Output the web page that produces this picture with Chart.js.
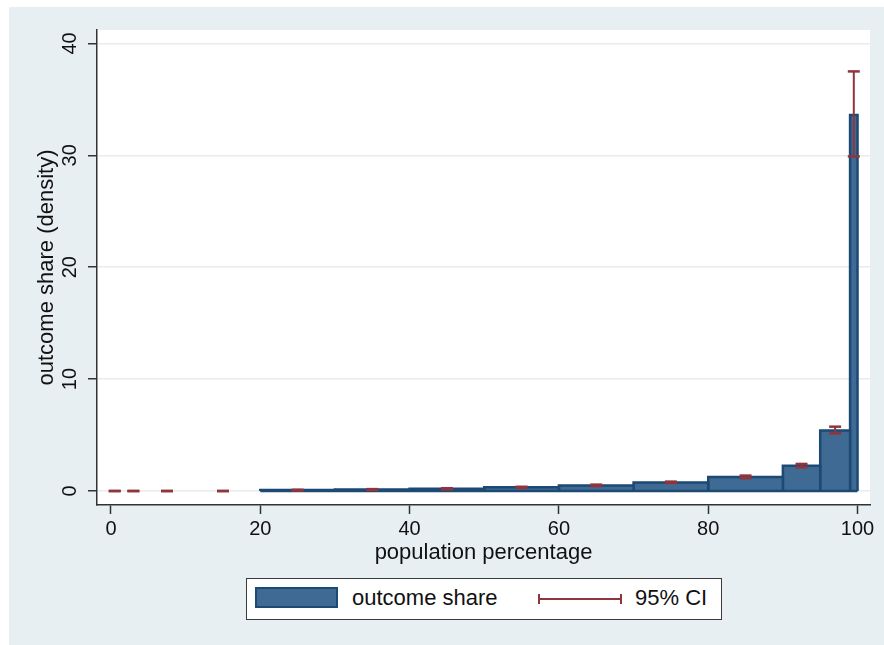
<!DOCTYPE html>
<html>
<head>
<meta charset="utf-8">
<title>outcome share by population percentage</title>
<script src="https://cdn.jsdelivr.net/npm/chart.js@4/dist/chart.umd.min.js"></script>
<style>
  html, body { margin: 0; padding: 0; background: #ffffff; }
  body { width: 884px; height: 645px; position: relative; overflow: hidden;
         font-family: "Liberation Sans", Arial, Helvetica, sans-serif; color: #111; }
  #panel { position: absolute; left: 9px; top: 7px; width: 875px; height: 638px; background: #e8eff2; }
  #chart { position: absolute; left: 0; top: 0; }
  #key { position: absolute; left: 246px; top: 578px; width: 476px; height: 42px;
         border: 1.5px solid #3a3a3a; background: #ffffff; box-sizing: border-box; }
  #key .swatch { position: absolute; left: 8px; top: 8px; width: 83px; height: 21px;
                 background: #3f6a93; border: 2px solid #1d4a74; box-sizing: border-box; }
  #key .label { position: absolute; top: 8px; font-size: 22px; line-height: 22px; white-space: nowrap; }
  #key .ci { position: absolute; left: 291px; top: 15px; width: 84px; height: 10px; }
  #key .ci .h { position: absolute; left: 0; right: 0; top: 4px; height: 2px; background: #90353b; }
  #key .ci .l { position: absolute; left: 0; top: 0; width: 2px; height: 10px; background: #90353b; }
  #key .ci .r { position: absolute; right: 0; top: 0; width: 2px; height: 10px; background: #90353b; }
</style>
</head>
<body>
<div id="panel"></div>
<canvas id="chart" width="884" height="645"></canvas>
<div id="key">
  <div class="swatch"></div>
  <div class="label" style="left:105px">outcome share</div>
  <div class="ci"><div class="h"></div><div class="l"></div><div class="r"></div></div>
  <div class="label" style="left:388px">95% CI</div>
</div>
<script>
// Histogram bins (population percentage) and estimated outcome share density
const binLo   = [0, 1, 5, 10, 20, 30, 40, 50, 60, 70, 80, 90, 95, 99];
const binHi   = [1, 5, 10, 20, 30, 40, 50, 60, 70, 80, 90, 95, 99, 100];
const density = [0, 0, 0, 0, 0.08, 0.13, 0.2, 0.33, 0.5, 0.77, 1.25, 2.25, 5.4, 33.6];
// 95% confidence interval bounds for each bin
const ciLow   = [0, 0, 0, 0, 0.04, 0.09, 0.15, 0.28, 0.44, 0.72, 1.15, 2.12, 5.15, 29.9];
const ciHigh  = [0, 0, 0, 0, 0.11, 0.17, 0.25, 0.38, 0.57, 0.84, 1.38, 2.42, 5.75, 37.5];
// Axis tick labels
const xTicks = [0, 20, 40, 60, 80, 100];
const yTicks = [0, 10, 20, 30, 40];

const FILL = '#3f6a93';
const EDGE = '#1d4a74';
const CI_COLOR = '#90353b';
const AXIS = '#333333';
const GRID = '#e6ecef';
const FONT = '"Liberation Sans", Arial, Helvetica, sans-serif';

const mids = binLo.map((lo, i) => (lo + binHi[i]) / 2);
const edgeFor = i => (density[i] > 0 ? EDGE : 'rgba(0,0,0,0)');

// Each bin: left side, top and right side, filled down to zero
const barSets = binLo.map((lo, i) => ({
  label: 'outcome share',
  data: [
    { x: lo, y: 0 },
    { x: lo, y: density[i] },
    { x: binHi[i], y: density[i] },
    { x: binHi[i], y: 0 }
  ],
  fill: 'origin',
  backgroundColor: FILL,
  borderColor: edgeFor(i),
  borderWidth: 2.5,
  pointRadius: 0,
  tension: 0,
  order: 2
}));

// Bottom edge of every non-empty bin
const barBases = {
  label: 'outcome share base',
  data: binLo.flatMap((lo, i) => density[i] > 0
    ? [{ x: lo, y: 0 }, { x: binHi[i], y: 0 }, { x: binHi[i], y: null }]
    : []),
  borderColor: EDGE,
  borderWidth: 2.5,
  pointRadius: 0,
  fill: false,
  spanGaps: false,
  order: 1
};

// Vertical CI whiskers, separated by gaps
const whiskers = {
  label: '95% CI',
  data: mids.flatMap((m, i) => [
    { x: m, y: ciLow[i] }, { x: m, y: ciHigh[i] }, { x: m, y: null }
  ]),
  borderColor: CI_COLOR,
  borderWidth: 2,
  pointRadius: 0,
  fill: false,
  spanGaps: false,
  tension: 0,
  order: 0
};

// Horizontal caps at both ends of each whisker
const caps = {
  label: '95% CI caps',
  data: mids.flatMap((m, i) => [{ x: m, y: ciLow[i] }, { x: m, y: ciHigh[i] }]),
  showLine: false,
  pointStyle: 'line',
  pointRadius: 6,
  pointHoverRadius: 6,
  pointBorderColor: CI_COLOR,
  pointBorderWidth: 2.5,
  borderColor: CI_COLOR,
  fill: false,
  order: 0
};

const plotBackground = {
  id: 'plotBackground',
  beforeDraw(chart) {
    const { ctx, chartArea: a } = chart;
    ctx.save();
    ctx.fillStyle = '#ffffff';
    ctx.fillRect(a.left, a.top, a.right - a.left, a.bottom - a.top);
    ctx.restore();
  }
};

new Chart(document.getElementById('chart'), {
  type: 'line',
  data: { datasets: [...barSets, barBases, whiskers, caps] },
  options: {
    responsive: false,
    animation: false,
    devicePixelRatio: 1,
    layout: { padding: { left: 0, top: 30, right: 14, bottom: 0 } },
    plugins: { legend: { display: false }, tooltip: { enabled: false } },
    scales: {
      x: {
        type: 'linear',
        min: -1.875,
        max: 101.67,
        afterBuildTicks: s => { s.ticks = xTicks.map(v => ({ value: v })); },
        afterFit: s => { s.height = 140; },
        grid: { drawOnChartArea: false, drawTicks: true, tickLength: 9,
                tickColor: AXIS, tickWidth: 1.5 },
        border: { color: AXIS, width: 1.5 },
        ticks: { autoSkip: false, maxRotation: 0, padding: 3, color: '#111',
                 font: { family: FONT, size: 20 } },
        title: { display: true, text: 'population percentage', color: '#111',
                 font: { family: FONT, size: 22 }, padding: { top: 0, bottom: 79 } }
      },
      y: {
        type: 'linear',
        min: -1.25,
        max: 41.2,
        afterBuildTicks: s => { s.ticks = yTicks.map(v => ({ value: v })); },
        afterFit: s => { s.width = 97; },
        grid: { color: GRID, lineWidth: 1.5, drawTicks: true, tickLength: 9,
                tickColor: AXIS, tickWidth: 1.5 },
        border: { color: AXIS, width: 1.5 },
        ticks: { minRotation: 90, maxRotation: 90, crossAlign: 'center', padding: 6,
                 color: '#111', font: { family: FONT, size: 20 } },
        title: { display: true, text: 'outcome share (density)', color: '#111',
                 font: { family: FONT, size: 22 }, padding: { top: 34, bottom: 0 } }
      }
    }
  },
  plugins: [plotBackground]
});
</script>
</body>
</html>
